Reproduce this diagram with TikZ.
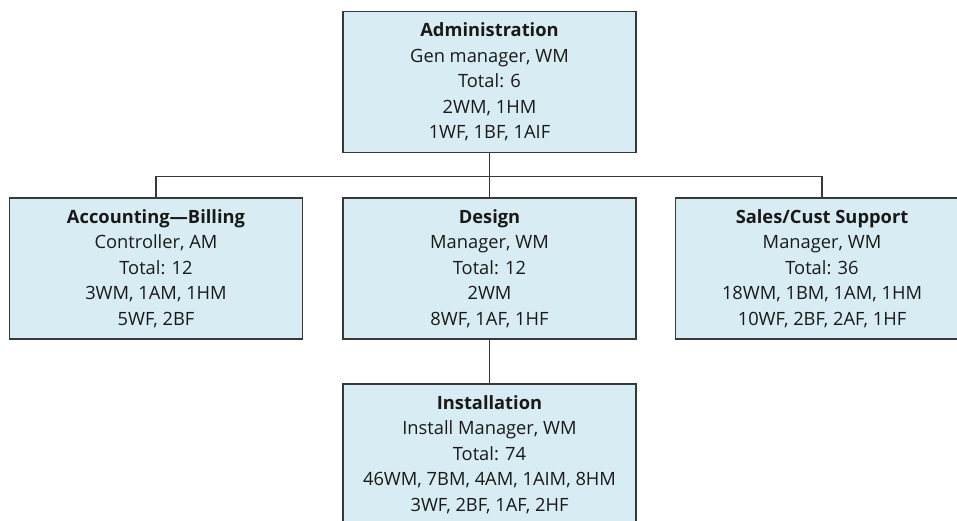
\documentclass[tikz,border=0pt]{standalone}
\usepackage{fontspec}
\setmainfont{Open Sans}
\usetikzlibrary{calc}
\definecolor{boxfill}{HTML}{D8EDF3}
\definecolor{edge}{HTML}{383838}
\begin{document}
\begin{tikzpicture}[x=1pt,y=-1pt,
  dept/.style={draw=edge, line width=1.4pt, fill=boxfill, minimum width=293pt, minimum height=141pt,
    align=center, inner sep=0pt, font=\fontsize{18.3}{25.6}\selectfont, text=black!90},
  link/.style={draw=edge, line width=1.3pt}]
\useasboundingbox (0,0) rectangle (957,521);
\clip (0,0) rectangle (957,521);
\node[dept] (admin) at (489.5,82) {\textbf{Administration}\\Gen manager, WM\\Total: 6\\2WM, 1HM\\1WF, 1BF, 1AIF};
\node[dept] (acct) at (156,268.5) {\textbf{Accounting---Billing}\\Controller, AM\\Total: 12\\3WM, 1AM, 1HM\\5WF, 2BF};
\node[dept] (design) at (489.5,268.5) {\textbf{Design}\\Manager, WM\\Total: 12\\2WM\\8WF, 1AF, 1HF};
\node[dept] (sales) at (822,268.5) {\textbf{Sales/Cust Support}\\Manager, WM\\Total: 36\\18WM, 1BM, 1AM, 1HM\\10WF, 2BF, 2AF, 1HF};
\node[dept] (inst) at (489.5,454.5) {\textbf{Installation}\\Install Manager, WM\\Total: 74\\46WM, 7BM, 4AM, 1AIM, 8HM\\3WF, 2BF, 1AF, 2HF};
\coordinate (bus) at ($(admin.south)!0.53!(design.north)$);
\draw[link] (acct.north) |- (bus) -| (sales.north);
\draw[link] (admin.south) -- (design.north);
\draw[link] (design.south) -- (inst.north);
\end{tikzpicture}
\end{document}
